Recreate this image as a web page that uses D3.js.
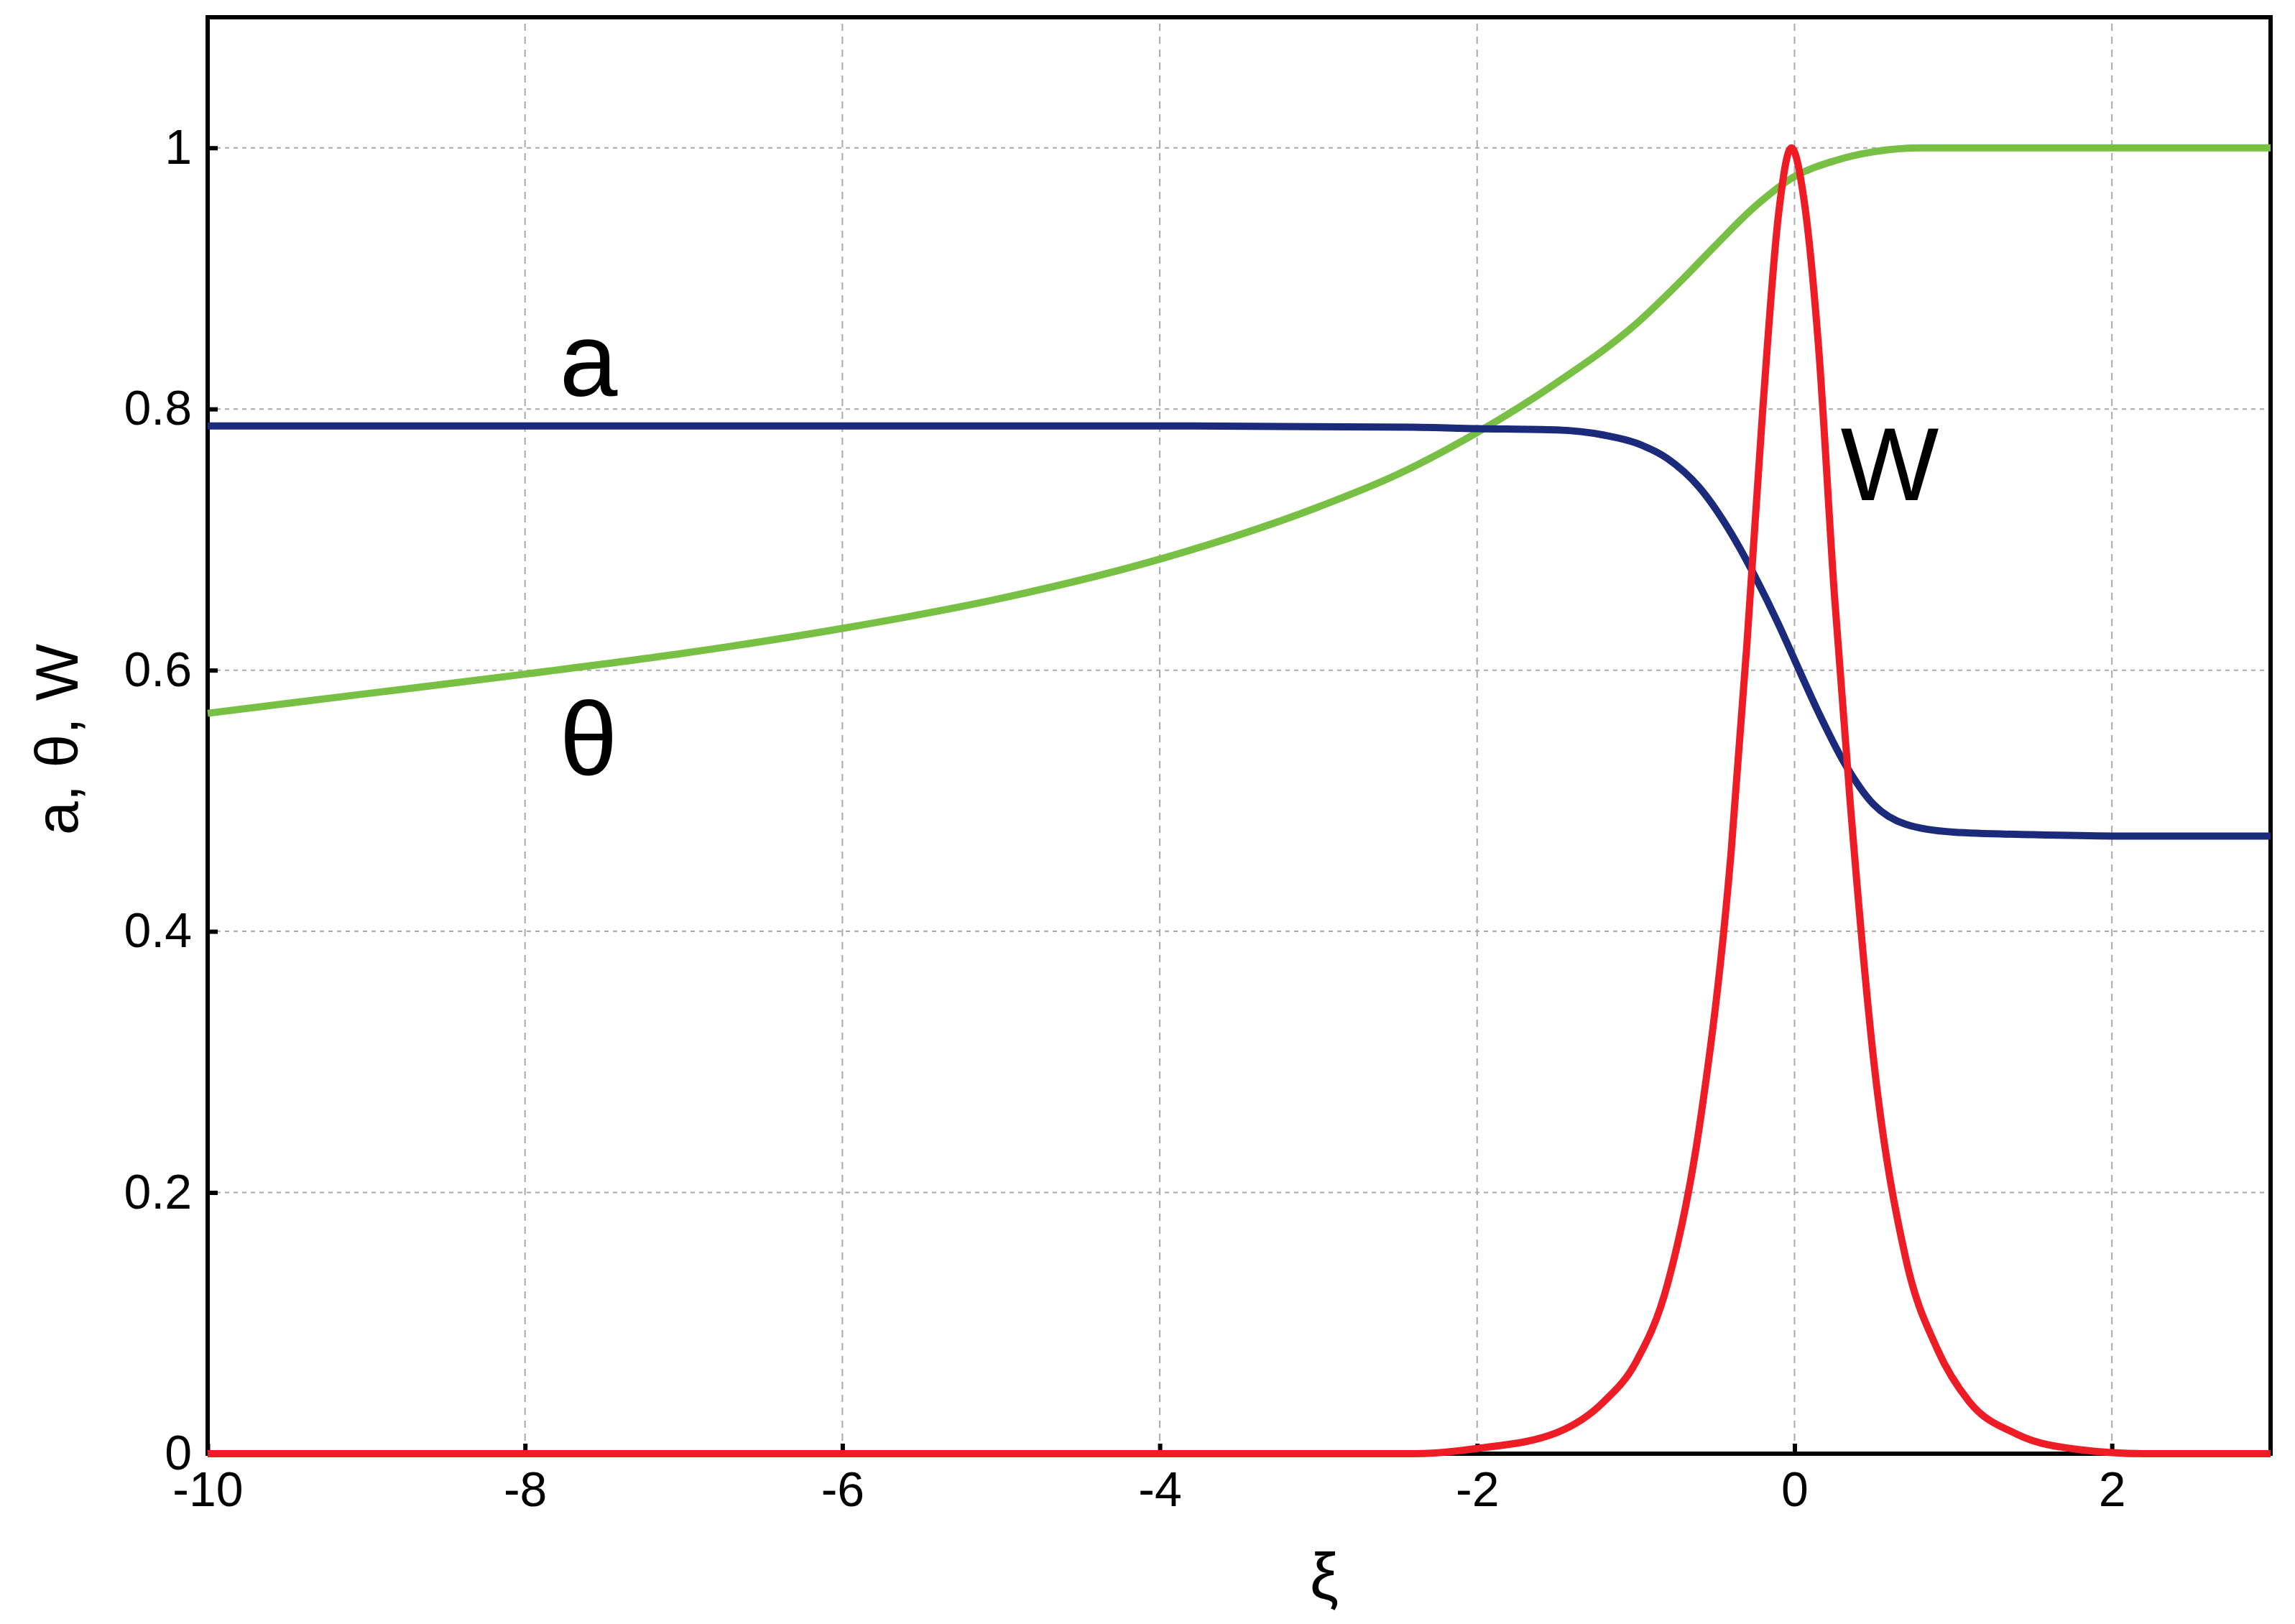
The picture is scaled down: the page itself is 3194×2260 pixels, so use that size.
<!DOCTYPE html>
<html><head><meta charset="utf-8">
<script src="https://cdn.jsdelivr.net/npm/d3@7"></script>
<style>body{margin:0;background:#fff}</style>
</head><body><div id="chart"></div>
<script>
const xTicks = [-10, -8, -6, -4, -2, 0, 2];
const yTicks = [0, 0.2, 0.4, 0.6, 0.8, 1];
// a(ξ)
const aX = [-10, -4, -2.4, -2, -1.5, -1.2, -1, -0.8, -0.6, -0.4, -0.25, -0.1, 0, 0.15, 0.3, 0.5, 0.7, 1, 1.5, 2, 3];
const aY = [0.787, 0.787, 0.786, 0.785, 0.784, 0.78, 0.774, 0.762, 0.74, 0.705, 0.672, 0.635, 0.608, 0.568, 0.532, 0.497, 0.482, 0.476, 0.474, 0.473, 0.473];
// θ(ξ)
const tX = [-10, -9, -8, -7, -6, -5, -4, -3, -2.5, -2, -1.5, -1, -0.7, -0.5, -0.25, 0, 0.25, 0.5, 0.8, 1, 2, 3];
const tY = [0.567, 0.582, 0.597, 0.613, 0.632, 0.655, 0.685, 0.725, 0.75, 0.782, 0.82, 0.865, 0.9, 0.925, 0.955, 0.978, 0.99, 0.997, 1.0, 1.0, 1.0, 1.0];
// W(ξ)
const wX = [-10, -2.4, -2, -1.5, -1.2, -1, -0.8, -0.6, -0.4, -0.3, -0.2, -0.1, -0.02, 0.06, 0.15, 0.25, 0.35, 0.5, 0.7, 0.9, 1.1, 1.4, 1.8, 2.2, 3];
const wY = [0, 0, 0.004, 0.016, 0.04, 0.07, 0.13, 0.25, 0.46, 0.62, 0.8, 0.95, 1.0, 0.96, 0.85, 0.66, 0.5, 0.3, 0.15, 0.08, 0.04, 0.015, 0.003, 0, 0];

const width = 3194, height = 2260;
const m = {left: 289, right: 34, top: 24, bottom: 237};
const svg = d3.select("#chart").append("svg").attr("width", width).attr("height", height);
const x = d3.scaleLinear([-10, 3], [m.left, width - m.right]);
const y = d3.scaleLinear([0, 1.1], [height - m.bottom, m.top]);
const font = "Liberation Sans, Arial, sans-serif";

// grid
svg.append("g").selectAll("line").data(xTicks.slice(1)).join("line")
  .attr("x1", d => x(d)).attr("x2", d => x(d)).attr("y1", y(0)).attr("y2", y(1.1))
  .attr("stroke", "#aaa").attr("stroke-width", 2).attr("stroke-dasharray", "10,8");
svg.append("g").selectAll("line").data(yTicks.slice(1)).join("line")
  .attr("x1", x(-10)).attr("x2", x(3)).attr("y1", d => y(d)).attr("y2", d => y(d))
  .attr("stroke", "#aaa").attr("stroke-width", 2).attr("stroke-dasharray", "6,6");

// axes
const xAxis = svg.append("g").attr("transform", `translate(0,${y(0)})`)
  .call(d3.axisBottom(x).tickValues(xTicks).tickSize(-14).tickPadding(22).tickFormat(d => String(d)));
const yAxis = svg.append("g").attr("transform", `translate(${x(-10)},0)`)
  .call(d3.axisLeft(y).tickValues(yTicks).tickSize(-14).tickPadding(22).tickFormat(d => d === 0 || d === 1 ? d : d3.format(".1f")(d)));
[xAxis, yAxis].forEach(g => {
  g.select(".domain").remove();
  g.selectAll(".tick line").attr("stroke", "#000").attr("stroke-width", 6);
  g.selectAll("text").attr("font-family", font).attr("font-size", 68).attr("fill", "#000");
});
xAxis.selectAll("text").attr("dy", "0.75em");

// frame
svg.append("rect").attr("x", x(-10)).attr("y", y(1.1)).attr("width", x(3) - x(-10)).attr("height", y(0) - y(1.1))
  .attr("fill", "none").attr("stroke", "#000").attr("stroke-width", 6);

const line = (xs, ys) => d3.line().x((d, i) => x(xs[i])).y(d => y(d)).curve(d3.curveMonotoneX)(ys);
svg.append("path").attr("d", line(tX, tY)).attr("fill", "none").attr("stroke", "#77c043").attr("stroke-width", 10);
svg.append("path").attr("d", line(aX, aY)).attr("fill", "none").attr("stroke", "#1c2a7c").attr("stroke-width", 10);
svg.append("path").attr("d", line(wX, wY)).attr("fill", "none").attr("stroke", "#ee1c25").attr("stroke-width", 10);

// curve labels
const lab = [["a", -7.6, 0.81], ["θ", -7.6, 0.52], ["W", 0.6, 0.73]];
svg.append("g").selectAll("text").data(lab).join("text")
  .attr("x", d => x(d[1])).attr("y", d => y(d[2])).attr("text-anchor", "middle")
  .attr("font-family", font).attr("font-size", 145).text(d => d[0]);

// axis titles
svg.append("text").attr("x", 1843).attr("y", 2225).attr("text-anchor", "middle")
  .attr("font-family", font).attr("font-size", 90).text("ξ");
svg.append("text").attr("transform", `translate(108,${y(0.547)}) rotate(-90)`).attr("text-anchor", "middle")
  .attr("font-family", font).attr("font-size", 84).text("a, θ, W");
</script></body></html>
